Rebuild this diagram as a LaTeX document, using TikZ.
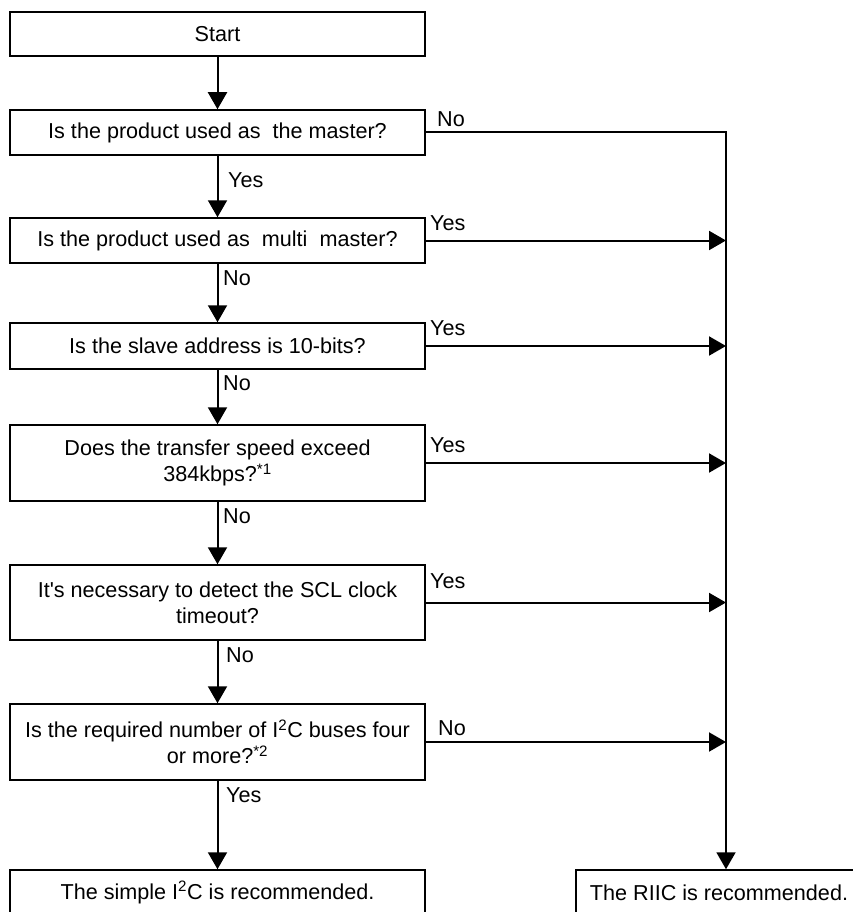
\documentclass[tikz,border=0pt]{standalone}
\usepackage{fontspec}
\setmainfont{Liberation Sans}
\usetikzlibrary{arrows.meta}

\begin{document}
\begin{tikzpicture}[
        x=1pt, y=-1pt, % units in pixels, y grows downwards
        font=\fontsize{21.6}{26}\selectfont,
        block/.style = {draw, line width=1.5pt, minimum width=415pt, minimum height=45pt, align=center, inner sep=2pt}, % boxes
        arr/.style = {line width=2pt, -{Triangle[length=17pt, width=19pt]}},
        lbl/.style = {anchor=base west, inner sep=0pt}, % Yes / No
    ]
    \useasboundingbox (0,0) rectangle (853,912);
    \clip (0,0) rectangle (853,912);

    % left column
    \node[block, minimum height=44pt] (start) at (217.5,34) {Start};
    \node[block] (master) at (217.5,132.5) {Is the product used as~ the master?};
    \node[block] (multi) at (217.5,240.5) {Is the product used as~ multi~ master?};
    \node[block, minimum height=46pt] (slave) at (217.5,346) {Is the slave address is 10-bits?};
    \node[block, minimum height=76pt] (speed) at (217.5,463) {Does the transfer speed exceed\\384kbps?\textsuperscript{*1}};
    \node[block, minimum height=75pt] (scl) at (217.5,602.5) {It\textquotesingle s necessary to detect the SCL clock\\timeout?};
    \node[block, minimum height=76pt] (buses) at (217.5,742) {Is the required number of I\textsuperscript{2}C buses four\\or more?\textsuperscript{*2}};
    \node[block] (simple) at (217.5,892.5) {The simple I\textsuperscript{2}C is recommended.};

    % right column
    \node[block, minimum width=286pt] (riic) at (719,892.5) {The RIIC is recommended.};
    \coordinate (riicin) at ([xshift=7pt]riic.north); % where the collecting line enters

    % main flow
    \draw[arr] (start) -- (master);
    \draw[arr] (master) -- (multi);
    \draw[arr] (multi) -- (slave);
    \draw[arr] (slave) -- (speed);
    \draw[arr] (speed) -- (scl);
    \draw[arr] (scl) -- (buses);
    \draw[arr] (buses) -- (simple);

    % branches to the RIIC
    \draw[arr] (master.east) -- (master.east -| riicin) -- (riicin);
    \foreach \q in {multi, slave, speed, scl, buses}
        \draw[arr] (\q.east) -- (\q.east -| riicin);

    % labels
    \node[lbl] (n1) at (437,127) {No};
    \node[lbl] (y1) at (228,188) {Yes};
    \node[lbl] (y2) at (430,230) {Yes};
    \node[lbl] (n2) at (223,285) {No};
    \node[lbl] (y3) at (430,335) {Yes};
    \node[lbl] (n3) at (223,390) {No};
    \node[lbl] (y4) at (430,452) {Yes};
    \node[lbl] (n4) at (223,523) {No};
    \node[lbl] (y5) at (430,588) {Yes};
    \node[lbl] (n5) at (226,662) {No};
    \node[lbl] (n6) at (438,735) {No};
    \node[lbl] (y6) at (226,802) {Yes};
\end{tikzpicture}
\end{document}
